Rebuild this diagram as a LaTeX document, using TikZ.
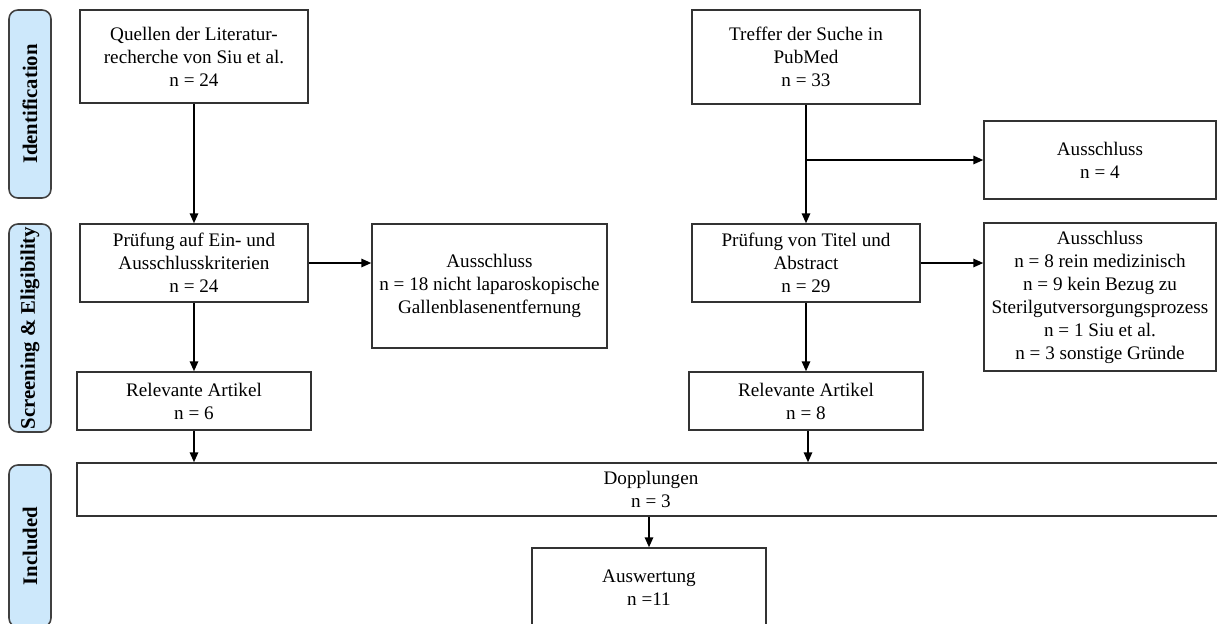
\documentclass[tikz,border=0pt]{standalone}
\usepackage{fontspec}
\setmainfont{Liberation Serif}
\usetikzlibrary{arrows.meta,calc}

\newcommand{\boxfont}{\fontsize{10.9}{13.1}\selectfont}
\newcommand{\phasefont}{\fontsize{11.8}{13}\selectfont\bfseries}

\definecolor{phaseblue}{HTML}{CDE8FB}
\tikzset{
  flowbox/.style={draw=black!80, line width=0.9pt, align=center, inner sep=0pt,
                  font=\boxfont, fill=white},
  phasebox/.style={draw=black!75, fill=phaseblue,
                   line width=0.9pt, rounded corners=5pt, rotate=90,
                   inner sep=0pt, minimum height=0.84cm, font=\phasefont},
  flowarrow/.style={draw=black, line width=0.9pt,
                    -{Triangle[length=5.6pt,width=4.8pt]}},
}

\begin{document}
\begin{tikzpicture}[x=0.02cm,y=-0.02cm]
  \useasboundingbox (0,0) rectangle (1217,623);

  % phase labels on the left
  \node[phasebox, minimum width=3.76cm] (ident) at (30,104) {Identification};
  \node[phasebox, minimum width=4.16cm] (screen) at (30,328) {Screening \& Eligibility};
  \node[phasebox, minimum width=3.24cm] (incl) at (30,546) {Included};

  % left branch: Siu et al.
  \node[flowbox, minimum width=4.56cm, minimum height=1.86cm] (quellen) at (194,56.5)
    {Quellen der Literatur-\\recherche von Siu et al.\\n = 24};
  \node[flowbox, minimum width=4.56cm, minimum height=1.56cm] (pruef1) at (194,263)
    {Prüfung auf Ein- und\\Ausschlusskriterien\\n = 24};
  \node[flowbox, minimum width=4.70cm, minimum height=2.48cm] (aus18) at (489.5,286)
    {Ausschluss\\n = 18 nicht laparoskopische\\Gallenblasenentfernung};
  \node[flowbox, minimum width=4.68cm, minimum height=1.16cm] (rel1) at (194,401)
    {Relevante Artikel\\n = 6};

  % right branch: PubMed
  \node[flowbox, minimum width=4.56cm, minimum height=1.88cm] (treffer) at (806,57)
    {Treffer der Suche in\\PubMed\\n = 33};
  \node[flowbox, minimum width=4.64cm, minimum height=1.56cm] (aus4) at (1100,160)
    {Ausschluss\\n = 4};
  \node[flowbox, minimum width=4.56cm, minimum height=1.56cm] (pruef2) at (806,263)
    {Prüfung von Titel und\\Abstract\\n = 29};
  \node[flowbox, minimum width=4.64cm, minimum height=2.96cm] (aus2) at (1100,297)
    {Ausschluss\\n = 8 rein medizinisch\\n = 9 kein Bezug zu\\Sterilgutversorgungsprozess\\n = 1 Siu et al.\\n = 3 sonstige Gründe};
  \node[flowbox, minimum width=4.68cm, minimum height=1.16cm] (rel2) at (806,401)
    {Relevante Artikel\\n = 8};

  % merged part (its right side runs past the edge)
  \node[flowbox, minimum width=22.96cm, minimum height=1.06cm] (dopp) at (651,489.5)
    {Dopplungen\\n = 3};
  \node[flowbox, minimum width=4.68cm, minimum height=1.60cm] (ausw) at (649,588)
    {Auswertung\\n =11};

  % connectors
  \draw[flowarrow] (quellen.south) -- (pruef1.north);
  \draw[flowarrow] (pruef1.south) -- (rel1.north);
  \draw[flowarrow] (pruef1.east) -- (aus18.west |- pruef1.east);
  \draw[flowarrow] (rel1.south) -- (rel1.south |- dopp.north);

  \draw[flowarrow] (treffer.south) -- (pruef2.north);
  \coordinate (split) at (treffer.south |- aus4.west);
  \draw[flowarrow] (split) -- (aus4.west);
  \draw[flowarrow] (pruef2.south) -- (pruef2.south |- rel2.north);
  \draw[flowarrow] (pruef2.east) -- (aus2.west |- pruef2.east);
  \draw[flowarrow] ($(rel2.south)+(2,0)$) -- ($(rel2.south |- dopp.north)+(2,0)$);

  \draw[flowarrow] (ausw.north |- dopp.south) -- (ausw.north);
\end{tikzpicture}
\end{document}
